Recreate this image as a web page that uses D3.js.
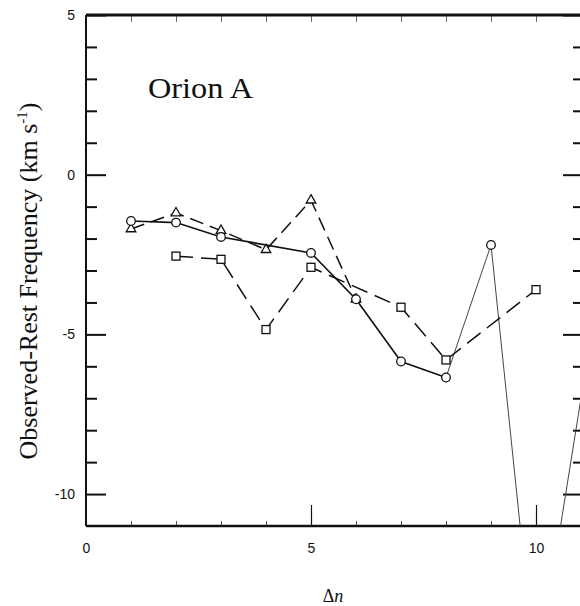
<!DOCTYPE html>
<html>
<head>
<meta charset="utf-8">
<script src="https://cdn.jsdelivr.net/npm/d3@7"></script>
<style>
  body { margin: 0; background: #fff; }
  .tick text { font-family: "Liberation Sans", Arial, sans-serif; font-size: 14px; fill: #111; }
</style>
</head>
<body>
<svg id="chart" width="580" height="606"></svg>
<script>
// data (Δn vs observed-rest frequency, km/s)
const circleX = [1, 2, 3, 5, 6, 7, 8, 9, 10, 11];
const circleY = [-1.45, -1.5, -1.95, -2.45, -3.9, -5.85, -6.35, -2.2, -15.8, -7.0];
const triX = [1, 2, 3, 4, 5, 6];
const triY = [-1.7, -1.2, -1.75, -2.35, -0.8, -3.9];
const sqX = [2, 3, 4, 5, 7, 8, 10];
const sqY = [-2.55, -2.65, -4.85, -2.9, -4.15, -5.8, -3.6];

const xMajor = [0, 5, 10];
const yMajor = [5, 0, -5, -10];

const svg = d3.select("#chart");

// Scales
const x = d3.scaleLinear().domain([0, 11]).range([86, 581]);
const y = d3.scaleLinear().domain([-11, 5]).range([526, 15]);

const xMinor = d3.range(1, 11).filter(d => d % 5 !== 0);
const yMinor = d3.range(-10, 5).filter(d => d % 5 !== 0);

// Clip for data
svg.append("clipPath").attr("id", "plot")
    .append("rect")
    .attr("x", x(0)).attr("y", y(5))
    .attr("width", x(11) - x(0)).attr("height", y(-11) - y(5));

// Ticks (inward)
function ticks(axis, tr, vals, size) {
    const g = svg.append("g")
        .attr("transform", tr)
        .call(axis.tickValues(vals).tickSize(size).tickFormat(""));
    g.select(".domain").remove();
    g.selectAll("line").attr("stroke", "#111");
    return g;
}
ticks(d3.axisRight(y), `translate(${x(0)},0)`, yMajor, 20).selectAll("line").attr("stroke-width", 2);
ticks(d3.axisRight(y), `translate(${x(0)},0)`, yMinor, 11).selectAll("line").attr("stroke-width", 2);
ticks(d3.axisLeft(y), `translate(${x(11)},0)`, yMajor, 18).selectAll("line").attr("stroke-width", 2);
ticks(d3.axisLeft(y), `translate(${x(11)},0)`, yMinor, 8).selectAll("line").attr("stroke-width", 2);
ticks(d3.axisTop(x), `translate(0,${y(-11)})`, [5, 10], 21).selectAll("line").attr("stroke-width", 1.2);
ticks(d3.axisTop(x), `translate(0,${y(-11)})`, xMinor, 5).selectAll("line").attr("stroke-width", 1).attr("stroke", "#555");
ticks(d3.axisBottom(x), `translate(0,${y(5)})`, d3.range(1, 11), 7).selectAll("line").attr("stroke-width", 1).attr("stroke", "#666");

// Frame (right edge falls just off the page)
const frame = svg.append("g").attr("stroke", "#111").attr("fill", "none");
frame.append("line").attr("x1", x(0)).attr("x2", x(11)).attr("y1", y(5)).attr("y2", y(5)).attr("stroke-width", 3);
frame.append("line").attr("x1", x(0)).attr("x2", x(11)).attr("y1", y(-11)).attr("y2", y(-11)).attr("stroke-width", 2.6);
frame.append("line").attr("x1", x(0)).attr("x2", x(0)).attr("y1", y(5)).attr("y2", y(-11)).attr("stroke-width", 2);

// Tick labels
const yl = svg.append("g").attr("transform", `translate(${x(0)},0)`)
    .call(d3.axisLeft(y).tickValues(yMajor).tickSize(0).tickPadding(11).tickFormat(d => String(d)));
yl.select(".domain").remove();
const xl = svg.append("g").attr("transform", `translate(0,${y(-11)})`)
    .call(d3.axisBottom(x).tickValues(xMajor).tickSize(0).tickPadding(17).tickFormat(d => String(d)));
xl.select(".domain").remove();

// Lines
const plot = svg.append("g").attr("clip-path", "url(#plot)");
const line = d3.line().x(d => x(d[0])).y(d => y(d[1]));
const circ = circleX.map((d, i) => [d, circleY[i]]);
const tri = triX.map((d, i) => [d, triY[i]]);
const sq = sqX.map((d, i) => [d, sqY[i]]);

plot.append("path").datum(circ.slice(6))
    .attr("d", line).attr("fill", "none")
    .attr("stroke", "#444").attr("stroke-width", 1);
plot.append("path").datum(sq)
    .attr("d", line).attr("fill", "none")
    .attr("stroke", "#111").attr("stroke-width", 1.5)
    .attr("stroke-dasharray", "17,8");
plot.append("path").datum(tri)
    .attr("d", line).attr("fill", "none")
    .attr("stroke", "#111").attr("stroke-width", 1.5)
    .attr("stroke-dasharray", "14,7");
plot.append("path").datum(circ.slice(0, 7))
    .attr("d", line).attr("fill", "none")
    .attr("stroke", "#111").attr("stroke-width", 1.6);

// Markers (the last circle point lies past the page edge)
plot.selectAll(".sq").data(sq).join("rect")
    .attr("x", d => x(d[0]) - 4).attr("y", d => y(d[1]) - 4)
    .attr("width", 8).attr("height", 8)
    .attr("fill", "#fff").attr("stroke", "#111").attr("stroke-width", 1.3);
plot.selectAll(".tri").data(tri).join("path")
    .attr("d", d3.symbol(d3.symbolTriangle, 40))
    .attr("transform", d => `translate(${x(d[0])},${y(d[1])})`)
    .attr("fill", "#fff").attr("stroke", "#111").attr("stroke-width", 1.3);
plot.selectAll(".circ").data(circ.slice(0, 9)).join("circle")
    .attr("cx", d => x(d[0])).attr("cy", d => y(d[1])).attr("r", 4.3)
    .attr("fill", "#fff").attr("stroke", "#111").attr("stroke-width", 1.3);

// Texts
svg.append("text")
    .attr("x", 148).attr("y", 98)
    .attr("textLength", 105).attr("lengthAdjust", "spacingAndGlyphs")
    .style("font-family", "'Liberation Serif', 'Times New Roman', serif")
    .style("font-size", "30px").attr("fill", "#111")
    .text("Orion A");

const ylab = svg.append("text")
    .attr("transform", "translate(37,281) rotate(-90)")
    .attr("text-anchor", "middle")
    .style("font-family", "'Liberation Serif', 'Times New Roman', serif")
    .style("font-size", "26px").attr("fill", "#111");
ylab.append("tspan").text("Observed-Rest Frequency (km s");
ylab.append("tspan").attr("dy", -10).style("font-size", "15px").text("-1");
ylab.append("tspan").attr("dy", 10).text(")");

const xlab = svg.append("text")
    .attr("x", 333).attr("y", 602)
    .attr("text-anchor", "middle")
    .style("font-family", "'Liberation Serif', 'Times New Roman', serif")
    .style("font-size", "18px").attr("fill", "#111");
xlab.append("tspan").text("Δ");
xlab.append("tspan").style("font-style", "italic").text("n");
</script>
</body>
</html>
